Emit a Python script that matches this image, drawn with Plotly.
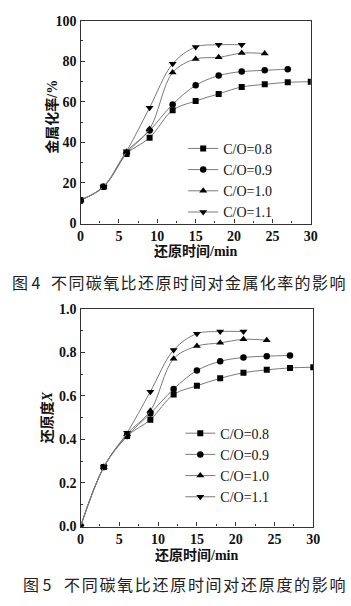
import plotly.graph_objects as go

# ---- data ----
time_min = [0, 3, 6, 9, 12, 15, 18, 21, 24, 27, 30]
labels = ["C/O=0.8", "C/O=0.9", "C/O=1.0", "C/O=1.1"]

# Fig 4: metallization rate (%)
met_08 = [11.5, 18.1, 34.3, 42.3, 55.8, 60.4, 63.9, 67.3, 68.6, 69.6, 69.9]
met_09 = [11.5, 18.1, 34.6, 45.8, 58.7, 68.1, 72.9, 74.9, 75.5, 76.1]
met_10 = [11.5, 18.1, 35.4, 46.6, 74.4, 81.1, 81.9, 84.0, 83.8]
met_11 = [11.5, 18.1, 35.6, 57.1, 78.7, 87.0, 88.1, 88.1]

# Fig 5: reduction degree X
red_08 = [0.0, 0.273, 0.415, 0.490, 0.606, 0.646, 0.680, 0.706, 0.719, 0.728, 0.731]
red_09 = [0.0, 0.273, 0.415, 0.519, 0.631, 0.716, 0.758, 0.776, 0.782, 0.785]
red_10 = [0.0, 0.273, 0.425, 0.531, 0.770, 0.828, 0.843, 0.859, 0.855]
red_11 = [0.0, 0.273, 0.430, 0.619, 0.810, 0.885, 0.895, 0.895]

x_ticks = [0, 5, 10, 15, 20, 25, 30]
y1_ticks = [0, 20, 40, 60, 80, 100]
y2_ticks = [0.0, 0.2, 0.4, 0.6, 0.8, 1.0]

xtitle = "还原时间/min"
y1title = "金属化率/%"
y2title = "还原度<i>X</i>"
cap1_no = "图 4"
cap1 = "不同碳氧比还原时间对金属化率的影响"
cap2_no = "图 5"
cap2 = "不同碳氧比还原时间对还原度的影响"

symbols = ["square", "circle", "triangle-up", "triangle-down"]
msizes = [6, 6.5, 7, 7]

SERIF = "Liberation Serif, Noto Sans CJK SC"
CJK = "Noto Sans CJK SC"
W, H = 351, 606

fig = go.Figure()

for i, ys in enumerate([met_08, met_09, met_10, met_11]):
    fig.add_trace(go.Scatter(
        x=time_min[:len(ys)], y=ys, name=labels[i], mode="lines+markers",
        line=dict(color="#7a7a7a", width=1, shape="spline", smoothing=1.0),
        marker=dict(symbol=symbols[i], size=msizes[i], color="black"),
        xaxis="x", yaxis="y", legend="legend"))

for i, ys in enumerate([red_08, red_09, red_10, red_11]):
    fig.add_trace(go.Scatter(
        x=time_min[:len(ys)], y=ys, name=labels[i], mode="lines+markers",
        line=dict(color="#7a7a7a", width=1, shape="spline", smoothing=1.0),
        marker=dict(symbol=symbols[i], size=msizes[i], color="black"),
        xaxis="x2", yaxis="y2", legend="legend2"))

def px_x(p):
    return p / W

def px_y(p):
    return 1 - p / H

axis_common = dict(
    showline=True, linecolor="#333", linewidth=1.2, mirror=True,
    ticks="inside", ticklen=4, tickcolor="#333", showgrid=False, zeroline=False,
    tickfont=dict(family=SERIF, size=14, color="#111", weight="bold"),
)
minor = dict(ticks="inside", ticklen=2.5, tickcolor="#333", showgrid=False)

def ann(text, x, y, size=14, angle=0, anchor="center", font=SERIF, weight="bold",
        color="#111"):
    return dict(text=text, x=px_x(x), y=px_y(y), xref="paper", yref="paper",
                xanchor=anchor, yanchor="middle", showarrow=False, textangle=angle,
                borderpad=0,
                font=dict(family=font, size=size, color=color, weight=weight))

fig.update_layout(
    width=W, height=H, margin=dict(l=0, r=0, t=0, b=0),
    paper_bgcolor="white", plot_bgcolor="white", showlegend=True,
    xaxis=dict(domain=[px_x(79), px_x(316.7)], range=[0, 30], tickvals=x_ticks,
               anchor="y", minor=dict(dtick=2.5, **minor), **axis_common),
    yaxis=dict(domain=[px_y(222), px_y(14)], range=[0, 100], tickvals=y1_ticks,
               anchor="x", minor=dict(dtick=10, **minor), **axis_common),
    xaxis2=dict(domain=[px_x(79), px_x(319.3)], range=[0, 30], tickvals=x_ticks,
                anchor="y2", minor=dict(dtick=2.5, **minor), **axis_common),
    yaxis2=dict(domain=[px_y(532.7), px_y(309.3)], range=[0, 1], tickvals=y2_ticks,
                tickformat=".1f", anchor="x2", minor=dict(dtick=0.1, **minor),
                **axis_common),
    legend=dict(x=px_x(185), y=px_y(129), xanchor="left", yanchor="top",
                bgcolor="rgba(0,0,0,0)", font=dict(family=SERIF, size=14, color="#111"),
                tracegroupgap=0, itemclick=False),
    legend2=dict(x=px_x(182), y=px_y(421), xanchor="left", yanchor="top",
                 bgcolor="rgba(0,0,0,0)", font=dict(family=SERIF, size=14, color="#111"),
                 tracegroupgap=0, itemclick=False),
    annotations=[
        ann(xtitle, 198, 250.5),
        ann(xtitle, 198.5, 562),
        ann(y1title, 50, 112, angle=-90),
        ann(y2title, 44, 421, angle=-90),
        ann(cap1_no, 23.5, 282, size=16, font=CJK, weight="normal", color="#222"),
        ann('<span style="letter-spacing:1.4px">' + cap1 + '</span>', 201.5, 282, size=16,
            font=CJK, weight="normal", color="#222"),
        ann(cap2_no, 35, 591.5, size=16, font=CJK, weight="normal", color="#222"),
        ann('<span style="letter-spacing:1.7px">' + cap2 + '</span>', 208.5, 591.5, size=16,
            font=CJK, weight="normal", color="#222"),
    ],
)

fig.write_html("out.html")
